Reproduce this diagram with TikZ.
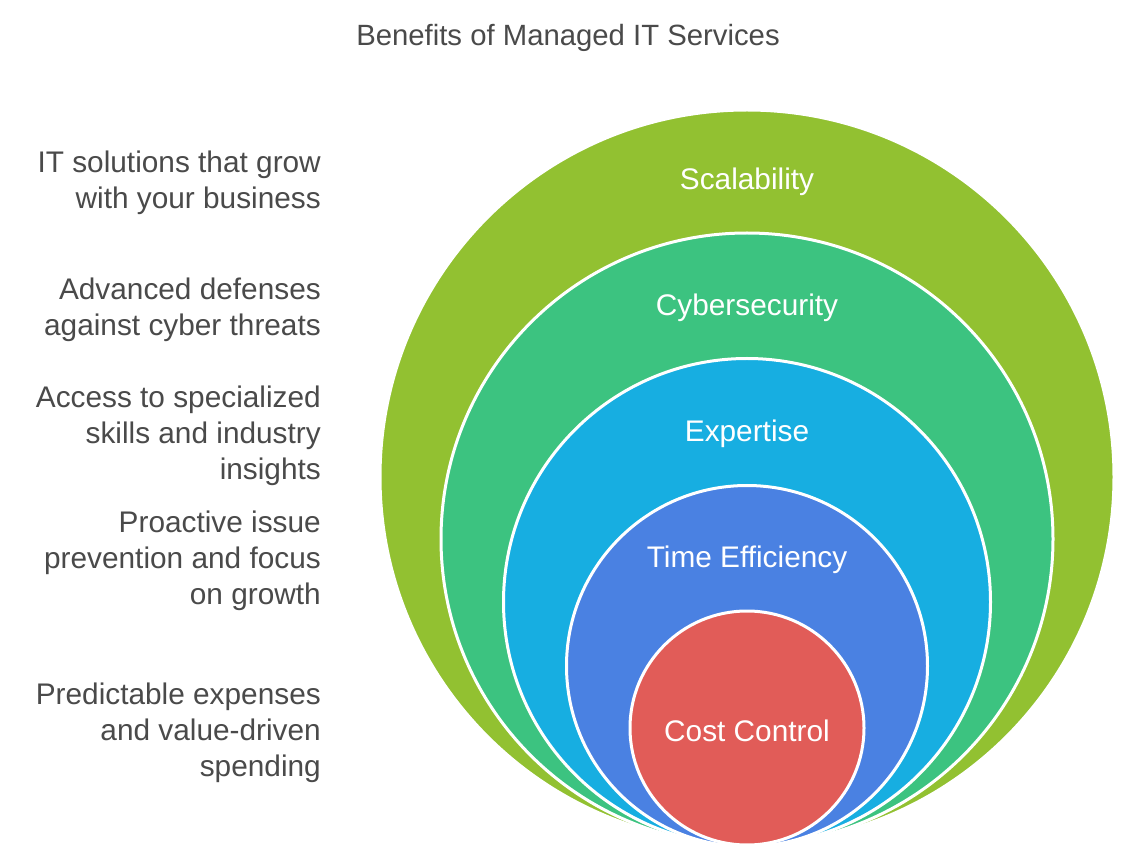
\documentclass[tikz,border=0pt]{standalone}
\usepackage{fontspec}
\setmainfont{Liberation Sans}
\definecolor{cgreen}{RGB}{146,193,49}
\definecolor{cteal}{RGB}{60,195,128}
\definecolor{ccyan}{RGB}{23,174,225}
\definecolor{cblue}{RGB}{74,129,226}
\definecolor{cred}{RGB}{225,92,88}
\definecolor{tgray}{RGB}{74,74,74}
\begin{document}
\begin{tikzpicture}[x=1pt,y=-1pt,
  ring/.style={circle, draw=white, line width=3pt, inner sep=0pt, minimum size=#1},
  ringlabel/.style={text=white, font=\fontsize{29.8}{34}\selectfont, inner sep=0pt},
  desc/.style={text=tgray, align=right, anchor=east, inner sep=0pt, font=\fontsize{29.8}{36}\selectfont},
  titlestyle/.style={text=tgray, font=\fontsize{29.3}{34}\selectfont, inner sep=0pt}]
\useasboundingbox[fill=white] (0,0) rectangle (1136,866);
\node[titlestyle] (title) at (568,38) {Benefits of Managed IT Services};
\node[ring=734pt, fill=cgreen] (c1) at (747,477) {};
\node[ring=612pt, fill=cteal] (c2) at (747,539) {};
\node[ring=487pt, fill=ccyan] (c3) at (747,602) {};
\node[ring=361pt, fill=cblue] (c4) at (747,666) {};
\node[ring=234pt, fill=cred] (c5) at (747,728) {};
\node[ringlabel] (l1) at (747,182) {Scalability};
\node[ringlabel] (l2) at (747,308) {Cybersecurity};
\node[ringlabel] (l3) at (747,434) {Expertise};
\node[ringlabel] (l4) at (747,560) {Time Efficiency};
\node[ringlabel] (l5) at (747,731) {Cost Control};
\node[desc] (d1) at (321,183) {IT solutions that grow\\with your business};
\node[desc] (d2) at (321,310) {Advanced defenses\\against cyber threats};
\node[desc] (d3) at (321,436) {Access to specialized\\skills and industry\\insights};
\node[desc] (d4) at (321,561) {Proactive issue\\prevention and focus\\on growth};
\node[desc] (d5) at (321,733) {Predictable expenses\\and value-driven\\spending};
\end{tikzpicture}
\end{document}
